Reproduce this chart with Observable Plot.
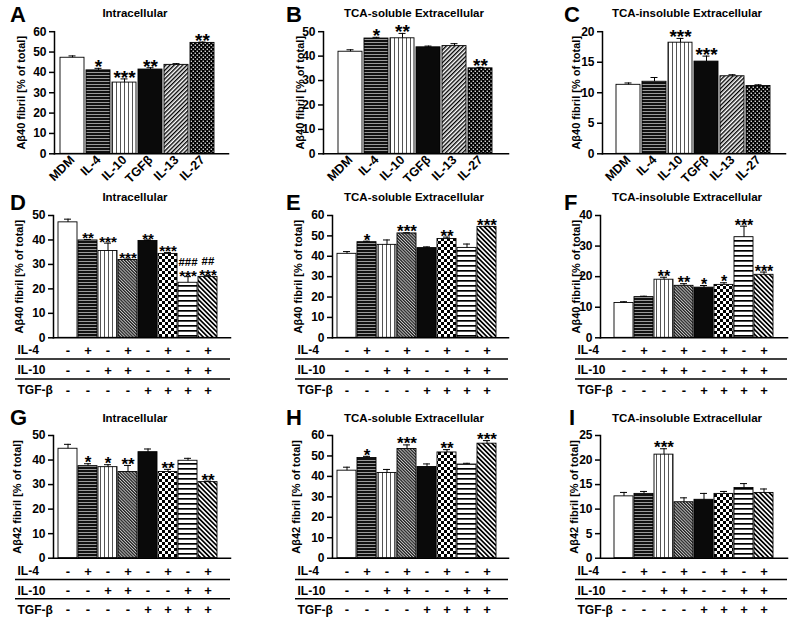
<!DOCTYPE html>
<html><head><meta charset="utf-8">
<script src="https://cdn.jsdelivr.net/npm/d3@7"></script>
<script src="https://cdn.jsdelivr.net/npm/@observablehq/plot@0.6"></script>
<style>
body{margin:0;background:#fff;}
#root{position:relative;width:800px;height:620px;overflow:hidden;font-family:"Liberation Sans",Arial,sans-serif;}
.abs{position:absolute;}
</style></head><body>
<svg width="0" height="0" style="position:absolute">
<defs>
<pattern id="p-hdense" width="4" height="3" patternUnits="userSpaceOnUse"><rect width="4" height="3" fill="#111"/><rect y="2" width="4" height="0.9" fill="#aaa"/></pattern>
<pattern id="p-vert" width="4" height="4" patternUnits="userSpaceOnUse"><rect width="4" height="4" fill="#fff"/><rect x="0" width="1" height="4" fill="#555"/></pattern>
<pattern id="p-diag" width="3" height="3" patternUnits="userSpaceOnUse" patternTransform="rotate(45)"><rect width="3" height="3" fill="#fff"/><rect width="1.4" height="3" fill="#000"/></pattern>
<pattern id="p-dots" width="4" height="4" patternUnits="userSpaceOnUse"><rect width="4" height="4" fill="#000"/><rect x="0.6" y="0.6" width="1.3" height="1.3" fill="#fff"/><rect x="2.6" y="2.6" width="1.3" height="1.3" fill="#fff"/></pattern>
<pattern id="p-diagfine" width="2.2" height="2.2" patternUnits="userSpaceOnUse" patternTransform="rotate(-45)"><rect width="2.2" height="2.2" fill="#ccc"/><rect width="1.3" height="2.2" fill="#222"/></pattern>
<pattern id="p-checker" width="6" height="6" patternUnits="userSpaceOnUse"><rect width="6" height="6" fill="#fff"/><rect width="3" height="3" fill="#000"/><rect x="3" y="3" width="3" height="3" fill="#000"/></pattern>
<pattern id="p-hwide" width="5" height="5" patternUnits="userSpaceOnUse"><rect width="5" height="5" fill="#fff"/><rect width="5" height="1.7" fill="#000"/></pattern>
<pattern id="p-diagthick" width="3.3" height="3.3" patternUnits="userSpaceOnUse" patternTransform="rotate(-45)"><rect width="3.3" height="3.3" fill="#fff"/><rect width="1.7" height="3.3" fill="#000"/></pattern>
</defs></svg>
<div id="root"></div>
<script>
// ---------------- DATA ----------------
const singleCats = ["MDM", "IL-4", "IL-10", "TGFβ", "IL-13", "IL-27"];
const comboCats = ["MDM", "IL-4", "IL-10", "IL-4+IL-10", "TGF-β", "IL-4+TGF-β", "IL-10+TGF-β", "IL-4+IL-10+TGF-β"];
const rowLabels = ["IL-4", "IL-10", "TGF-β"];
const il4Row  = ["-", "+", "-", "+", "-", "+", "-", "+"];
const il10Row = ["-", "-", "+", "+", "-", "-", "+", "+"];
const tgfbRow = ["-", "-", "-", "-", "+", "+", "+", "+"];

const titles = ["Intracellular", "TCA-soluble Extracellular", "TCA-insoluble Extracellular"];
const letters = ["A", "B", "C", "D", "E", "F", "G", "H", "I"];
const yLabel40 = "Aβ40 fibril [% of total]";
const yLabel42 = "Aβ42 fibril [% of total]";

const valuesA = [47.2, 41.0, 35.0, 41.4, 43.7, 54.5];
const errA    = [0.9, 1.0, 1.8, 0.9, 0.6, 0.4];
const sigA    = ["", "*", "***", "**", "", "**"];
const valuesB = [41.8, 47.2, 47.3, 43.6, 44.1, 35.0];
const errB    = [0.8, 0.5, 2.0, 0.5, 1.0, 0.4];
const sigB    = ["", "*", "**", "", "", "**"];
const valuesC = [11.3, 11.8, 18.2, 15.1, 12.7, 11.1];
const errC    = [0.3, 0.7, 0.7, 0.9, 0.25, 0.2];
const sigC    = ["", "", "***", "***", "", ""];

const valuesD = [47.2, 39.8, 35.5, 31.8, 39.6, 34.3, 22.5, 24.9];
const errD    = [1.3, 0.4, 3.2, 0.4, 0.4, 0.6, 2.5, 0.5];
const sigD    = ["", "**", "***", "***", "**", "***", "***", "***"];
const hashD   = ["", "", "", "", "", "", "###", "##"];
const valuesE = [41.2, 46.9, 45.6, 51.2, 44.0, 48.5, 44.1, 54.4];
const errE    = [1.1, 0.5, 2.4, 0.3, 0.6, 0.9, 1.9, 0.3];
const sigE    = ["", "*", "", "***", "", "**", "", "***"];
const valuesF = [11.4, 13.3, 19.0, 17.0, 16.4, 17.3, 32.9, 20.6];
const errF    = [0.4, 0.3, 0.8, 0.7, 0.7, 0.7, 3.6, 0.9];
const sigF    = ["", "", "**", "**", "*", "*", "***", "***"];

const valuesG = [44.6, 37.5, 37.1, 35.1, 43.2, 35.1, 39.7, 31.0];
const errG    = [1.8, 1.0, 1.0, 2.7, 1.3, 1.1, 1.0, 0.4];
const sigG    = ["", "*", "*", "**", "", "**", "", "**"];
const valuesH = [42.8, 49.0, 41.7, 53.4, 44.6, 51.7, 45.8, 56.0];
const errH    = [1.7, 0.8, 1.7, 2.0, 1.5, 1.4, 0.6, 1.5];
const sigH    = ["", "*", "", "***", "", "**", "", "***"];
const valuesI = [12.6, 13.1, 21.1, 11.4, 11.9, 13.1, 14.3, 13.3];
const errI    = [0.8, 0.5, 1.2, 0.9, 1.3, 0.5, 0.9, 0.8];
const sigI    = ["", "", "***", "", "", "", "", ""];

// ---------------- STYLE ----------------
const FONT = "'Liberation Sans', Arial, sans-serif";
const fillSingle = ["#fff", "url(#p-hdense)", "url(#p-vert)", "#0a0a0a", "url(#p-diag)", "url(#p-dots)"];
const fillCombo = ["#fff", "url(#p-hdense)", "url(#p-vert)", "url(#p-diagfine)", "#0a0a0a", "url(#p-checker)", "url(#p-hwide)", "url(#p-diagthick)"];

const root = document.getElementById("root");
function place(node, left, top) {
  const d = document.createElement("div");
  d.className = "abs"; d.style.left = left + "px"; d.style.top = top + "px";
  d.appendChild(node); root.appendChild(d);
}

function barPanel(g) {
  const data = g.cats.map((c, i) => ({c, v: g.values[i], e: g.errs[i], t: g.values[i] + g.errs[i],
    s: g.sig[i], h: g.hash ? g.hash[i] : "", f: g.fills[i]}));
  const marks = [
    Plot.barY(data, {x: "c", y: "v", fill: "f", stroke: "#000", strokeWidth: 0.9}),
    Plot.ruleX(data, {x: "c", y1: "v", y2: "t", stroke: "#000", strokeWidth: 1}),
    Plot.tickY(data, {x: "c", y: "t", stroke: "#000", strokeWidth: 1, insetLeft: g.cap, insetRight: g.cap}),
    Plot.text(data, {x: "c", y: "t", text: "s", lineAnchor: "bottom", dy: g.starDy, fontSize: g.starSize, fontWeight: "bold", fill: "#000"}),
    Plot.text(data, {x: "c", y: "t", text: "h", lineAnchor: "bottom", dy: -10.5, fontSize: 11.5, fontWeight: "bold", fill: "#000"}),
    Plot.frame({anchor: "left", stroke: "#000", strokeWidth: 1.5}),
    Plot.frame({anchor: "bottom", stroke: "#000", strokeWidth: 1.5}),
    Plot.axisY({ticks: d3.range(0, g.ymax + g.step / 2, g.step), tickSize: 5, tickPadding: 3, fontSize: 12,
      fontWeight: "bold", label: null, stroke: "#000", strokeWidth: 1.5, fill: "#000"}),
    Plot.text([g.ylabel], {text: d => d, frameAnchor: "left", rotate: -90, dx: g.labelX - g.axisX,
      textAnchor: "middle", lineAnchor: "top", fontSize: 11, fontWeight: "bold", fill: "#000"})
  ];
  if (g.rotateLabels) marks.push(Plot.axisX({tickRotate: -45, tickSize: 0, tickPadding: 4, fontSize: 12.5,
    fontWeight: "bold", label: null, fill: "#000"}));
  const p = Plot.plot({
    width: g.width, height: g.height,
    marginLeft: g.axisX - g.left, marginRight: g.left + g.width - g.xEnd,
    marginTop: g.yTop - g.top, marginBottom: g.top + g.height - g.y0,
    x: {type: "band", domain: g.cats, range: [g.bar0 - g.left, g.bar1 - g.left], paddingInner: 0.07, paddingOuter: 0,
        axis: g.rotateLabels ? undefined : null},
    y: {domain: [0, g.ymax]},
    color: {type: "identity"},
    style: {background: "transparent", overflow: "visible", fontFamily: FONT, color: "#000"},
    marks
  });
  place(p, g.left, g.top);
}

function tablePanel(g) {
  const rows = [il4Row, il10Row, tgfbRow];
  const top = g.rowY[0] - 12;
  const cells = rows.flatMap((r, ri) => g.cats.map((c, ci) => ({c, r: ri, s: r[ci]})));
  const labels = rowLabels.map((l, i) => ({l, r: i}));
  const p = Plot.plot({
    width: g.width, height: 70,
    marginLeft: g.lineStart - g.left, marginRight: g.left + g.width - g.xEnd, marginTop: 0, marginBottom: 0,
    x: {type: "band", domain: g.cats, range: [g.bar0 - g.left, g.bar1 - g.left], paddingInner: 0.07, paddingOuter: 0, axis: null},
    y: {domain: [0, 2], range: [g.rowY[0] - top, g.rowY[2] - top], axis: null},
    style: {background: "transparent", overflow: "visible", fontFamily: FONT, color: "#000"},
    marks: [
      Plot.text(cells, {x: "c", y: "r", text: "s", fontSize: 13, fontWeight: "bold", fill: "#000"}),
      Plot.text(labels, {y: "r", text: "l", frameAnchor: "left", textAnchor: "start", dx: g.labelTX - g.lineStart,
        fontSize: 12, fontWeight: "bold", fill: "#000"}),
      Plot.ruleY([0, 1], {y: d => d + 0.42, stroke: "#000", strokeWidth: 1.5})
    ]
  });
  place(p, g.left, top);
}

// ---------------- LAYOUT ----------------
const cols = [
  {left: 0, width: 270},
  {left: 270, width: 270},
  {left: 540, width: 260}
];
const row1 = [
  {axisX: 54, xEnd: 228, bar0: 57.5, bar1: 216.5, ymax: 60, step: 10, labelX: 17, values: valuesA, errs: errA, sig: sigA},
  {axisX: 323, xEnd: 508, bar0: 336.5, bar1: 494.5, ymax: 50, step: 10, labelX: 296, values: valuesB, errs: errB, sig: sigB},
  {axisX: 602, xEnd: 785, bar0: 613.5, bar1: 772, ymax: 20, step: 5, labelX: 572, values: valuesC, errs: errC, sig: sigC}
];
row1.forEach((r, i) => barPanel(Object.assign({}, cols[i], r, {top: 22, height: 175, y0: 153.3, yTop: 31.2,
  cats: singleCats, fills: fillSingle, ylabel: yLabel40, rotateLabels: true, cap: 8.5, starSize: 19, starDy: 5})));

const comboCols = [
  {axisX: 53, xEnd: 230, bar0: 55, bar1: 220.5, lineStart: 15, labelTX: 17},
  {axisX: 332, xEnd: 508, bar0: 334, bar1: 498.5, lineStart: 295, labelTX: 297},
  {axisX: 600, xEnd: 787, bar0: 611.5, bar1: 776, lineStart: 575, labelTX: 577}
];
const row2 = [
  {ymax: 50, step: 10, labelX: 15, values: valuesD, errs: errD, sig: sigD, hash: hashD, starSize: 15, starDy: 4},
  {ymax: 60, step: 10, labelX: 294, values: valuesE, errs: errE, sig: sigE, starSize: 17, starDy: 4.5},
  {ymax: 40, step: 10, labelX: 572, values: valuesF, errs: errF, sig: sigF, starSize: 16, starDy: 4.5}
];
const row3 = [
  {ymax: 50, step: 10, labelX: 13, values: valuesG, errs: errG, sig: sigG},
  {ymax: 60, step: 10, labelX: 292, values: valuesH, errs: errH, sig: sigH},
  {ymax: 25, step: 5, labelX: 570, values: valuesI, errs: errI, sig: sigI}
];
row2.forEach((r, i) => {
  const g = Object.assign({}, cols[i], comboCols[i], {top: 205, height: 140, y0: 337.3, yTop: 215,
    cats: comboCats, fills: fillCombo, ylabel: yLabel40, cap: 6, rowY: [350, 370, 390]}, r);
  barPanel(g); tablePanel(g);
});
row3.forEach((r, i) => {
  const g = Object.assign({}, cols[i], comboCols[i], {top: 428, height: 135, y0: 557.7, yTop: 435,
    cats: comboCats, fills: fillCombo, ylabel: yLabel42, cap: 6, starSize: 17, starDy: 4.5, rowY: [571, 590, 609.5]}, r);
  barPanel(g); tablePanel(g);
});

// letters and titles overlay
const ns = "http://www.w3.org/2000/svg";
const ov = document.createElementNS(ns, "svg");
ov.setAttribute("width", 800); ov.setAttribute("height", 620);
ov.style.position = "absolute"; ov.style.left = "0"; ov.style.top = "0"; ov.style.pointerEvents = "none";
const letterX = [10, 286, 564, 10, 286, 564, 10, 286, 569];
const rowBase = [22, 210, 425];
const titleBase = [16.5, 200.5, 422];
const titleCX = [135, 414, 687];
letters.forEach((l, i) => {
  const t = document.createElementNS(ns, "text");
  t.setAttribute("x", letterX[i]); t.setAttribute("y", rowBase[Math.floor(i / 3)]);
  t.setAttribute("font-size", 22); t.setAttribute("font-weight", "bold"); t.setAttribute("font-family", FONT);
  t.textContent = l; ov.appendChild(t);
});
for (let r = 0; r < 3; r++) for (let c = 0; c < 3; c++) {
  const t = document.createElementNS(ns, "text");
  t.setAttribute("x", titleCX[c]); t.setAttribute("y", titleBase[r]); t.setAttribute("text-anchor", "middle");
  t.setAttribute("font-size", 11.5); t.setAttribute("font-weight", "bold"); t.setAttribute("font-family", FONT);
  t.textContent = titles[c]; ov.appendChild(t);
}
root.appendChild(ov);
</script>
</body></html>
